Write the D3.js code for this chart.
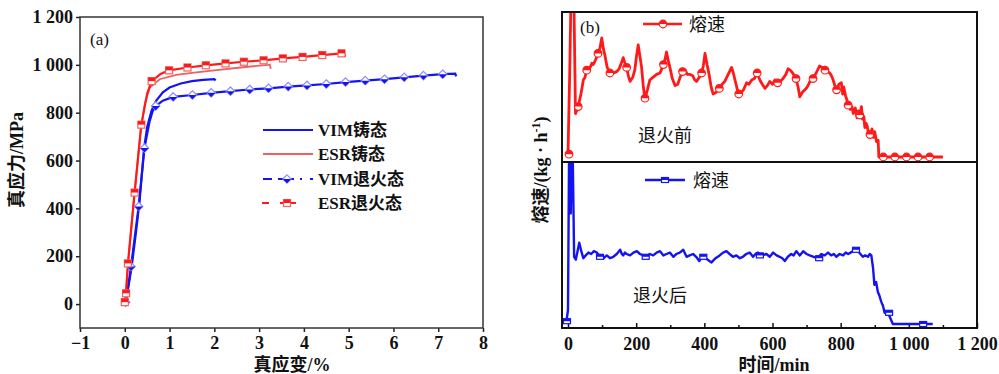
<!DOCTYPE html>
<html>
<head>
<meta charset="utf-8">
<script src="https://cdn.jsdelivr.net/npm/d3@7"></script>
<style>
  body { margin: 0; background: #fff; }
  svg { display: block; }
</style>
</head>
<body>
<svg id="chart" width="999" height="374"></svg>
<script>
// ---------- panel (a): true stress / true strain ----------
const strainTicks = [-1, 0, 1, 2, 3, 4, 5, 6, 7, 8];
const stressTicks = [0, 200, 400, 600, 800, 1000, 1200];

const vimCast = [[0,0],[0.05,40],[0.15,150],[0.25,300],[0.33,430],[0.43,650],[0.5,740],[0.6,810],
  [0.7,850],[0.85,885],[1.0,905],[1.25,922],[1.5,932],[1.75,937],[2.0,940],[2.03,935]];
const esrCast = [[0,0],[0.07,160],[0.2,430],[0.35,720],[0.45,840],[0.56,905],[0.78,940],[1.15,958],
  [1.5,966],[1.9,975],[2.64,990],[3.2,1000],[3.24,1001],[3.26,983]];
const vimAnneal = [[0,0],[0.05,40],[0.14,157],[0.31,408],[0.44,652],[0.55,760],[0.62,805],[0.69,828],
  [0.85,850],[1.08,866],[1.51,874],[1.93,883],[2.36,890],[2.79,897],[3.21,902],[3.65,909],[4.07,914],
  [4.5,920],[4.93,928],[5.37,934],[5.8,940],[6.24,948],[6.67,955],[7.1,961],[7.38,963],[7.4,952]];
const esrAnneal = [[0,0],[0,8],[0.03,45],[0.07,170],[0.22,466],[0.37,750],[0.5,880],[0.6,932],[0.8,962],
  [0.99,977],[1.4,989],[1.81,998],[2.25,1006],[2.66,1013],[3.1,1019],[3.53,1027],[3.97,1033],
  [4.41,1041],[4.84,1048],[4.9,1047],[4.92,1034]];
const vimAnnealMarks = [[0.02,8],[0.14,157],[0.31,408],[0.44,652],[0.69,828],[1.08,866],[1.51,874],
  [1.93,883],[2.36,890],[2.79,897],[3.21,902],[3.65,909],[4.07,914],[4.5,920],[4.93,928],[5.37,934],
  [5.8,940],[6.24,948],[6.67,955],[7.1,961]];
const esrAnnealMarks = [[0,8],[0.03,45],[0.07,170],[0.22,466],[0.37,750],[0.6,932],[0.99,977],[1.4,989],
  [1.81,998],[2.25,1006],[2.66,1013],[3.1,1019],[3.53,1027],[3.97,1033],[4.41,1041],[4.84,1048]];
const legendA = ["VIM铸态", "ESR铸态", "VIM退火态", "ESR退火态"];

// ---------- panel (b): melting rate vs time ----------
const timeTicks = [0, 200, 400, 600, 800, 1000, 1200];
const timeMinor = [100, 300, 500, 700, 900, 1100];

const rateBefore = [[0,2],[5,60],[9,118],[17,118],[22,31],[27,34],[30,36],[38,45],[45,55],[50,57],[55,62],
  [65,64],[70,67],[74,66],[82,70],[88,74],[94,78],[99,85],[104,77],[108,73],[115,64],[123,60],[133,60],
  [143,61],[150,63],[155,66],[162,71],[167,67],[172,64],[177,58],[182,54],[190,57],[196,62],[201,72],
  [206,80],[211,72],[216,64],[221,50],[226,42],[233,48],[240,55],[250,57],[260,59],[270,60],[280,66],
  [285,70],[289,75],[294,69],[299,64],[306,56],[314,51],[322,52],[329,57],[336,61],[344,62],[350,59],
  [358,59],[366,58],[372,55],[377,54],[385,57],[392,60],[397,65],[402,74],[408,66],[414,59],[420,50],
  [426,45],[434,46],[444,49],[452,52],[460,54],[470,59],[480,64],[485,60],[490,55],[496,49],[501,45],
  [508,46],[515,48],[524,53],[531,52],[539,55],[547,56],[555,60],[563,55],[570,52],[578,49],[585,51],
  [592,54],[600,52],[607,55],[615,53],[623,54],[631,56],[639,59],[646,63],[652,62],[659,60],[664,58],
  [669,56],[675,50],[680,43],[687,46],[695,48],[702,50],[710,54],[719,56],[728,60],[738,65],[746,64],
  [754,62],[761,61],[768,60],[773,58],[778,55],[783,51],[788,48],[795,52],[802,53],[806,45],[809,50],
  [814,44],[818,41],[822,37],[828,34],[833,36],[837,31],[843,35],[848,28],[852,33],[856,30],[861,36],
  [864,27],[868,29],[871,21],[875,24],[878,22],[882,16],[886,16],[892,20],[896,14],[900,18],[905,11],
  [910,12],[912,0],[1100,0]];
const rateBeforeMarks = [[3,2],[30,36],[55,62],[88,74],[123,60],[172,64],[226,42],[280,66],[336,61],
  [392,60],[444,49],[501,45],[555,60],[615,53],[669,56],[719,56],[754,62],[788,48],[822,37],[856,30],
  [886,16],[925,0],[959,0],[993,0],[1027,0],[1061,0]];

const rateAfter = [[-4,3],[0,10],[3,118],[6,122],[8,79],[11,122],[14,118],[18,48],[23,46],[28,52],[33,58],
  [39,52],[45,47],[52,49],[60,51],[68,50],[76,52],[85,51],[94,48],[104,47],[114,49],[123,47],[133,48],
  [143,50],[153,53],[158,50],[162,49],[167,51],[172,50],[182,49],[192,51],[202,52],[211,50],[221,49],
  [231,48],[240,50],[250,49],[260,51],[270,52],[280,49],[289,50],[299,51],[309,48],[318,50],[328,51],
  [338,53],[348,48],[357,49],[367,50],[376,48],[385,45],[391,47],[397,48],[409,46],[421,44],[433,47],
  [445,49],[455,51],[465,52],[474,50],[484,48],[494,49],[504,47],[513,48],[523,50],[533,51],[543,48],
  [550,50],[557,51],[570,49],[582,50],[592,48],[602,51],[612,49],[621,48],[629,47],[636,45],[645,48],
  [655,50],[662,49],[670,52],[680,49],[690,52],[700,50],[709,49],[721,48],[733,47],[743,50],[753,49],
  [763,51],[772,49],[780,50],[787,48],[797,50],[807,49],[815,51],[822,50],[829,51],[836,52],[844,53],
  [851,52],[858,50],[865,48],[872,49],[880,48],[885,50],[890,49],[895,40],[899,28],[904,30],[909,23],
  [914,20],[919,16],[924,13],[929,8],[939,8],[953,0],[1070,0]];
const rateAfterMarks = [[-3,2],[94,48],[228,48],[397,48],[563,49],[737,47],[845,53],[942,8],[1042,0]];
const legendB = ["熔速", "熔速"];
const stateLabels = ["退火前", "退火后"];

// ---------- drawing ----------
const svg = d3.select("#chart");
const serif = "'Liberation Serif','Noto Sans CJK SC',serif";
const sans = "'Noto Sans CJK SC','Noto Sans',sans-serif";
const fmt = d3.formatLocale({decimal: ".", thousands: " ", grouping: [3], currency: ["", ""], minus: "\u2212"}).format(",d");

const RED = "#ff1a1a", BLUE = "#1414f0", LBLUE = "#8c8cff", LRED = "#f06060";

// markers: half filled
function square(g, x, y, col, w, h, topFill, hollowCol) {
  g.append("rect").attr("x", x - w/2).attr("y", y - h/2).attr("width", w).attr("height", h)
    .attr("fill", "#fff").attr("stroke", hollowCol || col).attr("stroke-width", 1.2);
  g.append("rect").attr("x", x - w/2).attr("y", topFill ? y - h/2 : y).attr("width", w).attr("height", h/2)
    .attr("fill", col);
}
function diamond(g, x, y, r) {
  g.append("path").attr("d", `M${x},${y-r}L${x+r},${y}L${x},${y+r}L${x-r},${y}Z`)
    .attr("fill", "#fff").attr("stroke", LBLUE).attr("stroke-width", 1.2);
  g.append("path").attr("d", `M${x-r},${y}L${x+r},${y}L${x},${y+r}Z`).attr("fill", BLUE);
}
function halfCircle(g, x, y, r, col) {
  g.append("circle").attr("cx", x).attr("cy", y).attr("r", r)
    .attr("fill", "#fff").attr("stroke", col).attr("stroke-width", 1.2);
  g.append("path").attr("d", `M${x-r},${y}A${r},${r} 0 0 1 ${x+r},${y}Z`).attr("fill", col);
}

// ===== panel (a) =====
const xA = d3.scaleLinear().domain([-1, 8]).range([80, 483]);
const yA = d3.scaleLinear().domain([-100, 1200]).range([328, 17]);
const lineA = d3.line().x(d => xA(d[0])).y(d => yA(d[1]));

const gA = svg.append("g");

gA.append("g").attr("transform", "translate(0,328)")
  .call(d3.axisBottom(xA).tickValues(strainTicks).tickSize(4).tickPadding(4).tickFormat(fmt))
  .call(g => g.select(".domain").remove());
gA.append("g").attr("transform", "translate(80,0)")
  .call(d3.axisLeft(yA).tickValues(stressTicks).tickSize(4).tickPadding(3).tickFormat(fmt))
  .call(g => g.select(".domain").remove());
gA.selectAll(".tick line").attr("stroke", "#222").attr("stroke-width", 1.5);
gA.selectAll(".tick text").attr("font-family", serif).attr("font-weight", "bold")
  .attr("font-size", 18).attr("fill", "#111");

gA.append("rect").attr("x", 80).attr("y", 17).attr("width", 403).attr("height", 311)
  .attr("fill", "none").attr("stroke", "#333").attr("stroke-width", 1.5);

gA.append("path").datum(esrCast).attr("d", lineA).attr("fill", "none").attr("stroke", LRED).attr("stroke-width", 1.8);
gA.append("path").datum(vimCast).attr("d", lineA).attr("fill", "none").attr("stroke", BLUE).attr("stroke-width", 2.2);
gA.append("path").datum(vimAnneal).attr("d", lineA).attr("fill", "none").attr("stroke", BLUE).attr("stroke-width", 2.2);
gA.append("path").datum(esrAnneal).attr("d", lineA).attr("fill", "none").attr("stroke", RED).attr("stroke-width", 2.2);

const mkA = gA.append("g");
vimAnnealMarks.forEach(d => diamond(mkA, xA(d[0]), yA(d[1]), 4.2));
esrAnnealMarks.forEach(d => square(mkA, xA(d[0]), yA(d[1]), RED, 7, 7, true, LRED));

gA.append("text").attr("x", 90).attr("y", 45).attr("font-family", serif).attr("font-size", 17)
  .attr("fill", "#111").text("(a)");

// legend (a)
const legY = [130, 154, 179, 203];
const lg = gA.append("g");
lg.append("line").attr("x1", 263).attr("x2", 313).attr("y1", legY[0]).attr("y2", legY[0])
  .attr("stroke", BLUE).attr("stroke-width", 2.2);
lg.append("line").attr("x1", 263).attr("x2", 313).attr("y1", legY[1]).attr("y2", legY[1])
  .attr("stroke", LRED).attr("stroke-width", 1.8);
lg.append("line").attr("x1", 263).attr("x2", 313).attr("y1", legY[2]).attr("y2", legY[2])
  .attr("stroke", BLUE).attr("stroke-width", 2.2).attr("stroke-dasharray", "9,6,16,6,2,8");
diamond(lg, 287, legY[2], 4.2);
lg.append("line").attr("x1", 262).attr("x2", 302).attr("y1", legY[3]).attr("y2", legY[3])
  .attr("stroke", RED).attr("stroke-width", 2.2).attr("stroke-dasharray", "7,11,16");
square(lg, 287, legY[3], RED, 7, 7, true, LRED);
lg.selectAll("text.leg").data(legendA).join("text").attr("class", "leg")
  .attr("x", 318).attr("y", (d, i) => legY[i] + 6)
  .attr("font-family", serif).attr("font-weight", "bold").attr("font-size", 17).attr("fill", "#111")
  .text(d => d);

gA.append("text").attr("transform", "translate(23,160) rotate(-90)").attr("text-anchor", "middle")
  .attr("font-family", serif).attr("font-weight", "bold").attr("font-size", 18).attr("fill", "#111")
  .text("真应力/MPa");
gA.append("text").attr("x", 292).attr("y", 371).attr("text-anchor", "middle")
  .attr("font-family", serif).attr("font-weight", "bold").attr("font-size", 18).attr("fill", "#111")
  .text("真应变/%");

// ===== panel (b) =====
const xB = d3.scaleLinear().domain([0, 1200]).range([568, 977]);
const yTop = d3.scaleLinear().domain([0, 100]).range([157, 17]);
const yBot = d3.scaleLinear().domain([0, 100]).range([324, 184]);
const FL = 562, FR = 977, FT = 12, FM = 162, FB = 328;

const gB = svg.append("g");
const defs = svg.append("defs");
defs.append("clipPath").attr("id", "clipTop").append("rect")
  .attr("x", FL).attr("y", FT).attr("width", FR - FL).attr("height", FM - FT);
defs.append("clipPath").attr("id", "clipBot").append("rect")
  .attr("x", FL).attr("y", FM).attr("width", FR - FL).attr("height", FB - FM);

gB.append("g").attr("transform", `translate(0,${FB})`)
  .call(d3.axisBottom(xB).tickValues(timeMinor).tickSize(-3).tickFormat(""))
  .call(g => g.select(".domain").remove());
gB.append("g").attr("transform", `translate(0,${FB})`)
  .call(d3.axisBottom(xB).tickValues(timeTicks).tickSize(-5).tickPadding(9).tickFormat(fmt))
  .call(g => g.select(".domain").remove());
gB.selectAll(".tick line").attr("stroke", "#111").attr("stroke-width", 1.5);
gB.selectAll(".tick text").attr("font-family", serif).attr("font-weight", "bold")
  .attr("font-size", 18).attr("fill", "#111");

const lineTop = d3.line().x(d => xB(d[0])).y(d => yTop(d[1]));
const lineBot = d3.line().x(d => xB(d[0])).y(d => yBot(d[1]));

gB.append("path").datum(rateBefore).attr("d", lineTop).attr("clip-path", "url(#clipTop)")
  .attr("fill", "none").attr("stroke", RED).attr("stroke-width", 2.8).attr("stroke-linejoin", "round");
gB.append("path").datum(rateAfter).attr("d", lineBot).attr("clip-path", "url(#clipBot)")
  .attr("fill", "none").attr("stroke", BLUE).attr("stroke-width", 2.4).attr("stroke-linejoin", "round");

const mkB = gB.append("g");
rateBeforeMarks.forEach(d => halfCircle(mkB, xB(d[0]), yTop(d[1]), 3.8, RED));
rateAfterMarks.forEach(d => square(mkB, xB(d[0]), yBot(d[1]), BLUE, 7, 5, true));

gB.append("rect").attr("x", FL).attr("y", FT).attr("width", FR - FL).attr("height", FB - FT)
  .attr("fill", "none").attr("stroke", "#111").attr("stroke-width", 2);
gB.append("line").attr("x1", FL).attr("x2", FR).attr("y1", FM).attr("y2", FM)
  .attr("stroke", "#111").attr("stroke-width", 2.2);

// legends (b)
gB.append("line").attr("x1", 643).attr("x2", 682).attr("y1", 24).attr("y2", 24)
  .attr("stroke", RED).attr("stroke-width", 2.6);
halfCircle(gB, 663, 24, 3.8, RED);
gB.append("line").attr("x1", 645).attr("x2", 685).attr("y1", 180).attr("y2", 180)
  .attr("stroke", BLUE).attr("stroke-width", 2.3);
square(gB, 665, 180, BLUE, 7, 5, true);
gB.selectAll("text.legb").data(legendB).join("text").attr("class", "legb")
  .attr("x", (d, i) => i ? 693 : 689).attr("y", (d, i) => i ? 187 : 31)
  .attr("font-family", sans).attr("font-size", 18).attr("fill", "#111").text(d => d);

gB.selectAll("text.state").data(stateLabels).join("text").attr("class", "state")
  .attr("x", (d, i) => i ? 633 : 638).attr("y", (d, i) => i ? 302 : 142)
  .attr("font-family", sans).attr("font-size", 18).attr("fill", "#111").text(d => d);

gB.append("text").attr("x", 580).attr("y", 33).attr("font-family", serif).attr("font-size", 17)
  .attr("fill", "#111").text("(b)");

gB.append("text").attr("x", 774).attr("y", 371).attr("text-anchor", "middle")
  .attr("font-family", serif).attr("font-weight", "bold").attr("font-size", 18).attr("fill", "#111")
  .text("时间/min");

const yl = gB.append("text").attr("transform", "translate(547,170) rotate(-90)").attr("text-anchor", "middle")
  .attr("font-family", serif).attr("font-weight", "bold").attr("font-size", 18).attr("fill", "#111");
yl.append("tspan").text("熔速/(kg · h");
yl.append("tspan").attr("dy", -7).attr("font-size", 12).text("-1");
yl.append("tspan").attr("dy", 7).text(")");
</script>
</body>
</html>
